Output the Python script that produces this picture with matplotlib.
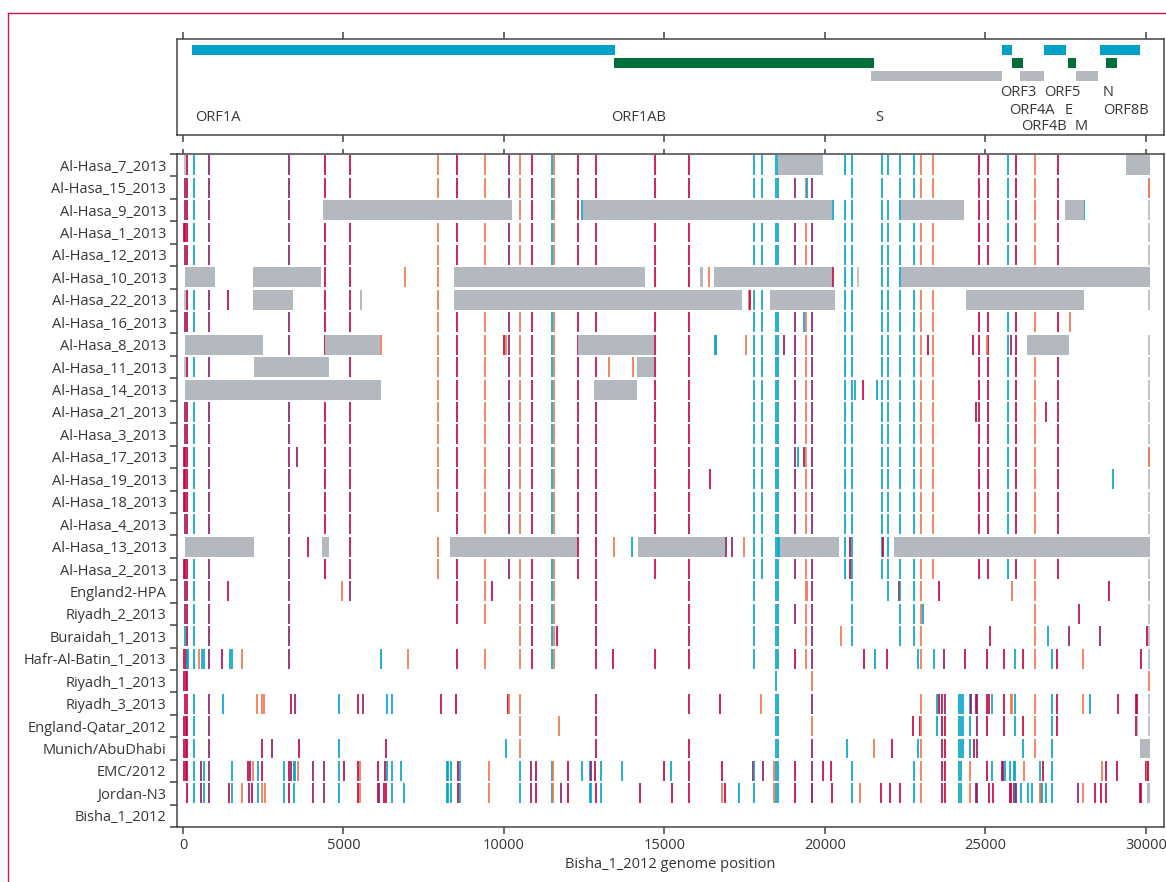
import matplotlib
matplotlib.use('Agg')
import matplotlib.pyplot as plt
import numpy as np
from matplotlib.lines import Line2D

plt.rcParams['font.family'] = ['Open Sans', 'DejaVu Sans']
plt.rcParams['font.size'] = 10.5

colours = {'c': '#00a1c7', 'r': '#c2003f', 'p': '#8a1a6b', 'o': '#f0724b', 'g': '#b3b9bf'}
gene_colours = ['#00a1c7', '#007038', '#b3b9bf']
text_col = '#363636'
axis_col = '#444444'

# genome annotation
gene_names = ['ORF1A', 'ORF1AB', 'S', 'ORF3', 'ORF4A', 'ORF4B', 'ORF5', 'E', 'M', 'N', 'ORF8B']
gene_start = [280, 13427, 21433, 25514, 25826, 26075, 26822, 27570, 27819, 28567, 28754]
gene_end = [13458, 21526, 25505, 25826, 26168, 26822, 27508, 27819, 28505, 29813, 29097]
gene_lane = [0, 1, 2, 0, 1, 2, 0, 1, 2, 0, 1]
label_x = [374, 13324, 21558, 25452, 25732, 26106, 26822, 27477, 27788, 28651, 28651]
label_level = [3, 3, 3, 0, 1, 2, 0, 1, 2, 0, 1]

x_ticks = [0, 5000, 10000, 15000, 20000, 25000, 30000]

# variants shared by the Al-Hasa cluster
core_hasa = [(134, 'r'), (352, 'c'), (819, 'p'), (3312, 'p'), (4433, 'r'), (5212, 'r'),
             (7953, 'o'), (8545, 'r'), (9417, 'o'), (10165, 'p'), (10508, 'o'), (10882, 'r'),
             (11500, 'c'), (11560, 'o'), (12315, 'r'), (12875, 'r'), (14713, 'r'), (15773, 'r'),
             (17798, 'c'), (18047, 'c'), (18483, 'c'), (18545, 'c'), (19075, 'p'),
             (19408, 'o'), (19586, 'p'), (20632, 'c'), (20850, 'c'), (21785, 'c'), (21972, 'c'),
             (22346, 'c'), (22782, 'c'), (23000, 'o'), (23374, 'o'), (24807, 'r'), (25087, 'r'),
             (25710, 'c'), (25959, 'r'), (26551, 'o'), (27268, 'r'), (30103, 'g')]

hasa7_snps = [(70, 'g')]
hasa7_gaps = [(18525, 19940), (29377, 30125)]
hasa15_snps = [(70, 'p'), (19440, 'c'), (30103, 'o')]
hasa15_drop = [20632, 21972]
hasa9_snps = [(70, 'p'), (12440, 'c'), (20259, 'c'), (28078, 'c')]
hasa9_gaps = [(4361, 10249), (12475, 20230), (22380, 24330), (27477, 28055)]
hasa1_snps = [(40, 'r'), (75, 'r')]
hasa12_snps = [(70, 'p')]
hasa10_snps = [(6926, 'o'), (16396, 'o'), (20259, 'r'), (21037, 'g')]
hasa10_gaps = [(62, 997), (2181, 4299), (8442, 14393), (16106, 16199), (16542, 20230), (22380, 30125)]
hasa22_snps = [(70, 'g'), (1412, 'r'), (17620, 'o'), (17655, 'r')]
hasa22_gaps = [(2181, 3427), (5514, 5576), (8442, 17414), (18287, 20312), (24393, 28069)]
hasa16_snps = [(70, 'p'), (19346, 'c'), (27642, 'o')]
hasa16_drop = [30103]
hasa8_snps = [(6168, 'o'), (10000, 'r'), (10062, 'o'), (16580, 'c'), (16610, 'c'), (17548, 'o'),
              (18732, 'p'), (23218, 'r'), (24620, 'r'), (25056, 'o'), (25794, 'p')]
hasa8_gaps = [(62, 2492), (4423, 6150), (12305, 14673), (26293, 27601)]
hasa11_snps = [(70, 'g'), (13281, 'o'), (14029, 'o')]
hasa11_gaps = [(2212, 4548), (14143, 14680)]
hasa14_snps = [(20944, 'c'), (21193, 'r'), (21629, 'c')]
hasa14_gaps = [(62, 6168), (12804, 14143)]
hasa21_snps = [(70, 'p'), (24713, 'r'), (26894, 'r')]
hasa3_snps = [(70, 'p')]
hasa17_snps = [(40, 'r'), (75, 'r'), (3561, 'p'), (19159, 'c'), (19346, 'p'), (30103, 'o')]
hasa19_snps = [(40, 'r'), (75, 'r'), (16427, 'r'), (28984, 'c')]
hasa18_snps = [(40, 'r'), (75, 'r')]
hasa4_snps = [(70, 'p')]
hasa4_drop = [7953]
hasa13_snps = [(3904, 'r'), (13437, 'o'), (13998, 'c'), (16926, 'p'), (17113, 'p'), (17477, 'o'),
               (18560, 'c'), (20788, 'r'), (21815, 'r')]
hasa13_gaps = [(62, 2212), (4330, 4548), (8318, 12274), (14174, 16885), (18590, 20436), (22150, 30125)]
hasa2_snps = [(40, 'r'), (75, 'r'), (20788, 'r')]

england2_snps = [(70, 'p'), (134, 'r'), (352, 'c'), (819, 'p'), (1412, 'r'), (3312, 'p'), (4963, 'o'),
                 (5212, 'p'), (8545, 'r'), (9417, 'o'), (9636, 'r'), (10508, 'o'), (10882, 'r'),
                 (11500, 'c'), (11560, 'o'), (12875, 'r'), (15773, 'r'), (17798, 'c'), (18483, 'c'),
                 (18545, 'c'), (19400, 'o'), (19440, 'o'), (19586, 'p'), (20850, 'c'), (21972, 'c'),
                 (22315, 'r'), (22346, 'c'), (22782, 'c'), (23000, 'o'), (23561, 'r'), (25835, 'o'),
                 (26551, 'o'), (28857, 'r')]
england2_gaps = [(30062, 30125)]
riyadh2_snps = [(70, 'p'), (134, 'r'), (352, 'c'), (819, 'p'), (3312, 'p'), (8545, 'r'), (9417, 'o'),
                (10508, 'o'), (10882, 'r'), (11500, 'c'), (11560, 'o'), (12875, 'r'), (15773, 'r'),
                (17798, 'c'), (18483, 'c'), (18545, 'c'), (19075, 'p'), (19408, 'o'), (19586, 'p'),
                (20850, 'c'), (22346, 'c'), (22782, 'c'), (23000, 'o'), (23063, 'c'), (26551, 'o'),
                (27922, 'r'), (30103, 'g')]
buraidah_snps = [(70, 'c'), (134, 'r'), (352, 'c'), (819, 'p'), (3312, 'p'), (10508, 'o'), (10882, 'r'),
                 (11500, 'c'), (11560, 'o'), (11660, 'r'), (12875, 'r'), (15773, 'r'), (17798, 'c'),
                 (18483, 'c'), (18545, 'c'), (19408, 'o'), (19586, 'p'), (20508, 'o'), (20850, 'c'),
                 (22346, 'c'), (22782, 'c'), (23000, 'o'), (25150, 'r'), (26551, 'o'), (26957, 'c'),
                 (27610, 'p'), (28576, 'p'), (30040, 'r'), (30103, 'g')]
hafr_snps = [(40, 'r'), (80, 'r'), (134, 'c'), (165, 'c'), (352, 'c'), (514, 'o'), (592, 'c'), (664, 'c'),
             (819, 'p'), (1205, 'r'), (1475, 'c'), (1536, 'c'), (1848, 'o'), (3312, 'p'), (6178, 'c'),
             (7019, 'o'), (8545, 'r'), (9417, 'o'), (10508, 'o'), (10882, 'r'), (11500, 'c'),
             (11560, 'o'), (12875, 'r'), (13405, 'r'), (14713, 'r'), (15773, 'r'), (17798, 'c'),
             (18483, 'c'), (18545, 'c'), (19075, 'r'), (19408, 'o'), (19586, 'p'), (21224, 'r'),
             (21567, 'c'), (21941, 'r'), (22907, 'c'), (23000, 'o'), (23405, 'c'), (23717, 'p'),
             (24371, 'r'), (25056, 'r'), (25586, 'r'), (25928, 'c'), (26178, 'r'), (26551, 'o'),
             (27081, 'c'), (27237, 'r'), (28047, 'o'), (29854, 'r'), (30103, 'g')]
riyadh1_snps = [(40, 'r'), (80, 'r'), (115, 'r'), (18483, 'c'), (19586, 'o'), (30103, 'o')]
riyadh3_snps = [(70, 'r'), (134, 'r'), (352, 'c'), (819, 'p'), (1256, 'c'), (2315, 'o'), (2471, 'o'),
                (2514, 'o'), (3355, 'r'), (3499, 'p'), (4869, 'c'), (5461, 'r'), (5617, 'p'), (6364, 'c'),
                (6520, 'c'), (8047, 'r'), (8514, 'r'), (10134, 'r'), (10165, 'o'), (10508, 'o'),
                (12875, 'r'), (15773, 'r'), (16738, 'r'), (18016, 'o'), (18483, 'c'), (18545, 'c'),
                (19586, 'p'), (23000, 'o'), (23498, 'c'), (23561, 'r'), (23654, 'r'), (23748, 'p'),
                (24184, 'c'), (24246, 'c'), (24308, 'c'), (24526, 'c'), (24558, 'p'), (24713, 'r'),
                (24745, 'p'), (25056, 'r'), (25118, 'r'), (25212, 'c'), (25586, 'r'), (25804, 'o'),
                (25835, 'o'), (25928, 'c'), (26551, 'o'), (27081, 'c'), (27237, 'r'), (28047, 'o'),
                (28265, 'c'), (29137, 'r'), (29698, 'r'), (29729, 'r'), (30103, 'g')]
qatar_snps = [(40, 'r'), (80, 'r'), (134, 'r'), (352, 'c'), (819, 'p'), (10508, 'o'), (11723, 'o'),
              (12875, 'r'), (18483, 'c'), (18545, 'c'), (19586, 'o'), (22751, 'r'), (22969, 'r'),
              (22990, 'o'), (23498, 'c'), (23654, 'r'), (23748, 'r'), (24184, 'c'), (24246, 'c'),
              (24308, 'c'), (24526, 'c'), (24745, 'p'), (25056, 'r'), (25586, 'r'), (25928, 'c'),
              (26178, 'r'), (26551, 'o'), (27081, 'c'), (27237, 'r'), (29698, 'r'), (30103, 'g')]
qatar_gaps = [(29729, 29760)]
munich_snps = [(40, 'r'), (80, 'r'), (134, 'r'), (352, 'c'), (819, 'p'), (2471, 'r'), (2782, 'p'),
               (3623, 'r'), (4869, 'c'), (6334, 'r'), (10072, 'c'), (10508, 'o'), (12875, 'r'),
               (15773, 'r'), (18483, 'c'), (18545, 'c'), (19586, 'p'), (20695, 'c'), (21536, 'o'),
               (22097, 'r'), (22907, 'c'), (23000, 'o'), (23654, 'r'), (23748, 'r'), (24184, 'c'),
               (24246, 'c'), (24308, 'c'), (24526, 'c'), (24651, 'r'), (24745, 'p'), (26178, 'c'),
               (26551, 'o'), (27081, 'c')]
munich_gaps = [(29813, 30125)]
emc_snps = [(40, 'r'), (80, 'r'), (134, 'r'), (352, 'c'), (570, 'p'), (664, 'c'), (819, 'p'), (1536, 'c'),
            (2034, 'r'), (2087, 'r'), (2190, 'o'), (2346, 'c'), (2471, 'r'), (3156, 'c'), (3312, 'r'),
            (3355, 'p'), (3467, 'c'), (3499, 'c'), (3592, 'o'), (4059, 'p'), (4402, 'p'), (4869, 'c'),
            (5025, 'r'), (5461, 'r'), (5524, 'o'), (6084, 'r'), (6302, 'r'), (6364, 'c'), (6520, 'c'),
            (6800, 'c'), (8234, 'c'), (8265, 'c'), (8358, 'c'), (8576, 'r'), (8639, 'c'), (9542, 'o'),
            (10508, 'c'), (10851, 'p'), (11007, 'r'), (11500, 'c'), (11540, 'o'), (12003, 'r'),
            (12440, 'c'), (12689, 'c'), (12720, 'p'), (12844, 'r'), (13031, 'c'), (13685, 'c'),
            (14994, 'r'), (15212, 'c'), (15773, 'r'), (16801, 'r'), (17767, 'r'), (17798, 'c'),
            (18078, 'p'), (18421, 'o'), (18483, 'c'), (18545, 'c'), (19075, 'r'), (19586, 'p'),
            (19947, 'r'), (20196, 'r'), (20850, 'c'), (22782, 'c'), (23000, 'o'), (23654, 'r'),
            (23748, 'r'), (24184, 'c'), (24246, 'c'), (24526, 'o'), (25056, 'r'), (25212, 'c'),
            (25523, 'r'), (25555, 'p'), (25617, 'c'), (25773, 'c'), (25897, 'c'), (25928, 'c'),
            (26209, 'o'), (26707, 'c'), (26801, 'r'), (27081, 'c'), (28639, 'o'), (28763, 'r'),
            (29106, 'r'), (30009, 'r'), (30040, 'o'), (30072, 'r')]
jordan_snps = [(134, 'r'), (352, 'c'), (570, 'p'), (664, 'c'), (819, 'p'), (1443, 'r'), (1536, 'c'),
               (1848, 'o'), (2065, 'p'), (2159, 'r'), (2346, 'c'), (2471, 'o'), (2560, 'o'), (3156, 'c'),
               (3312, 'r'), (3467, 'c'), (4059, 'p'), (4402, 'p'), (4869, 'c'), (5461, 'r'), (5524, 'o'),
               (6084, 'r'), (6115, 'p'), (6274, 'r'), (6334, 'r'), (6520, 'c'), (6894, 'c'), (8234, 'c'),
               (8265, 'c'), (8358, 'c'), (8576, 'r'), (8639, 'c'), (9542, 'o'), (10508, 'c'),
               (10851, 'p'), (11007, 'r'), (11500, 'c'), (11540, 'o'), (11785, 'p'), (12003, 'r'),
               (12689, 'c'), (12720, 'c'), (12875, 'r'), (13031, 'c'), (14246, 'r'), (15243, 'r'),
               (15773, 'r'), (16801, 'o'), (16895, 'r'), (17330, 'c'), (17798, 'c'), (18421, 'o'),
               (18483, 'c'), (18545, 'c'), (19075, 'r'), (19586, 'o'), (19610, 'p'), (20227, 'r'),
               (20850, 'c'), (21100, 'o'), (21754, 'r'), (22034, 'r'), (22346, 'r'), (22782, 'c'),
               (23000, 'o'), (23654, 'r'), (23748, 'r'), (24184, 'c'), (24246, 'c'), (24526, 'o'),
               (24713, 'p'), (24745, 'p'), (25118, 'r'), (25243, 'r'), (25773, 'r'), (25804, 'r'),
               (25897, 'r'), (25928, 'c'), (25959, 'p'), (26115, 'c'), (26333, 'c'), (26458, 'c'),
               (26707, 'o'), (26738, 'o'), (26770, 'c'), (26894, 'c'), (27081, 'c'), (27891, 'p'),
               (28047, 'o'), (28421, 'r'), (28608, 'r'), (28763, 'r'), (29823, 'r'), (29854, 'r')]
jordan_gaps = [(30030, 30125)]

# (label, shared core, own variants, uncovered regions, core positions absent)
rows = [
    ('Al-Hasa_7_2013', core_hasa, hasa7_snps, hasa7_gaps, []),
    ('Al-Hasa_15_2013', core_hasa, hasa15_snps, [], hasa15_drop),
    ('Al-Hasa_9_2013', core_hasa, hasa9_snps, hasa9_gaps, []),
    ('Al-Hasa_1_2013', core_hasa, hasa1_snps, [], []),
    ('Al-Hasa_12_2013', core_hasa, hasa12_snps, [], []),
    ('Al-Hasa_10_2013', core_hasa, hasa10_snps, hasa10_gaps, []),
    ('Al-Hasa_22_2013', core_hasa, hasa22_snps, hasa22_gaps, []),
    ('Al-Hasa_16_2013', core_hasa, hasa16_snps, [], hasa16_drop),
    ('Al-Hasa_8_2013', core_hasa, hasa8_snps, hasa8_gaps, []),
    ('Al-Hasa_11_2013', core_hasa, hasa11_snps, hasa11_gaps, []),
    ('Al-Hasa_14_2013', core_hasa, hasa14_snps, hasa14_gaps, []),
    ('Al-Hasa_21_2013', core_hasa, hasa21_snps, [], []),
    ('Al-Hasa_3_2013', core_hasa, hasa3_snps, [], []),
    ('Al-Hasa_17_2013', core_hasa, hasa17_snps, [], []),
    ('Al-Hasa_19_2013', core_hasa, hasa19_snps, [], []),
    ('Al-Hasa_18_2013', core_hasa, hasa18_snps, [], []),
    ('Al-Hasa_4_2013', core_hasa, hasa4_snps, [], hasa4_drop),
    ('Al-Hasa_13_2013', core_hasa, hasa13_snps, hasa13_gaps, []),
    ('Al-Hasa_2_2013', core_hasa, hasa2_snps, [], []),
    ('England2-HPA', [], england2_snps, england2_gaps, []),
    ('Riyadh_2_2013', [], riyadh2_snps, [], []),
    ('Buraidah_1_2013', [], buraidah_snps, [], []),
    ('Hafr-Al-Batin_1_2013', [], hafr_snps, [], []),
    ('Riyadh_1_2013', [], riyadh1_snps, [], []),
    ('Riyadh_3_2013', [], riyadh3_snps, [], []),
    ('England-Qatar_2012', [], qatar_snps, qatar_gaps, []),
    ('Munich/AbuDhabi', [], munich_snps, munich_gaps, []),
    ('EMC/2012', [], emc_snps, [], []),
    ('Jordan-N3', [], jordan_snps, jordan_gaps, []),
    ('Bisha_1_2012', [], [], [], []),
]

W, H = 1166, 882
fig = plt.figure(figsize=(W / 100, H / 100), dpi=100)
xmin, xmax = -196, 30561

# ---- gene track ----
ax_top = fig.add_axes([176.7 / W, 1 - 135.3 / H, (1164 - 176.7) / W, (135.3 - 38.7) / H])
lane_y = [0.115, 0.25, 0.385]
level_y = [0.56, 0.74, 0.913, 0.8125]
for name, s, e, lane, lx, lev in zip(gene_names, gene_start, gene_end, gene_lane, label_x, label_level):
    ax_top.barh(lane_y[lane], e - s, left=s, height=0.104, color=gene_colours[lane])
    ax_top.text(lx, level_y[lev], name, ha='left', va='center', color=text_col, fontsize=10.5)
ax_top.set_xlim(xmin, xmax)
ax_top.set_ylim(1, 0)
ax_top.set_yticks([])
ax_top.set_xticks(x_ticks)
ax_top.tick_params(axis='x', top=True, bottom=True, labelbottom=False, direction='out',
                   length=5, width=1.1, color=axis_col)
for sp in ax_top.spines.values():
    sp.set_color(axis_col)
    sp.set_linewidth(1.1)

# ---- variant panel ----
ax = fig.add_axes([176.7 / W, 1 - 827 / H, (1164 - 176.7) / W, (827 - 154) / H])
half = 0.445
for i, (label, core, snps, gaps, drop) in enumerate(rows):
    marks = [m for m in core if m[0] not in drop] + snps
    if marks:
        ax.vlines([m[0] for m in marks], i - half, i + half,
                  colors=[colours[m[1]] for m in marks], linewidth=1.2, zorder=2)
    if gaps:
        ax.broken_barh([(s, e - s) for s, e in gaps], (i - half, 2 * half),
                       facecolors=colours['g'], zorder=3)

ax.set_xlim(xmin, xmax)
ax.set_ylim(len(rows) - 0.5, -0.5)
ax.set_yticks(range(len(rows)))
ax.set_yticklabels([r[0] for r in rows], color=text_col)
ax.set_yticks(np.arange(-0.5, len(rows), 1), minor=True)
ax.tick_params(axis='y', which='major', length=0, pad=7.5)
ax.tick_params(axis='y', which='minor', length=5, width=1.1, color=axis_col, direction='out')
ax.set_xticks(x_ticks)
ax.set_xticklabels([str(t) for t in x_ticks], color=text_col)
ax.tick_params(axis='x', length=5, width=1.1, color=axis_col, direction='out', pad=3)
secax = ax.secondary_xaxis('top')
secax.set_xticks(x_ticks)
secax.set_xticklabels([])
secax.tick_params(axis='x', length=3.8, width=1.1, color=axis_col, direction='out')
secax.spines['top'].set_visible(False)
for sp in ax.spines.values():
    sp.set_color(axis_col)
    sp.set_linewidth(1.1)
ax.set_xlabel('Bisha_1_2012 genome position', color=text_col, labelpad=3)

# page frame
fig.add_artist(Line2D([8.3 / W, 8.3 / W], [0, 1 - 12.7 / H], color='#c8184a', linewidth=1.0))
fig.add_artist(Line2D([8.3 / W, 1], [1 - 12.7 / H, 1 - 12.7 / H], color='#c8184a', linewidth=1.0))

fig.savefig('out.png', dpi=100)
